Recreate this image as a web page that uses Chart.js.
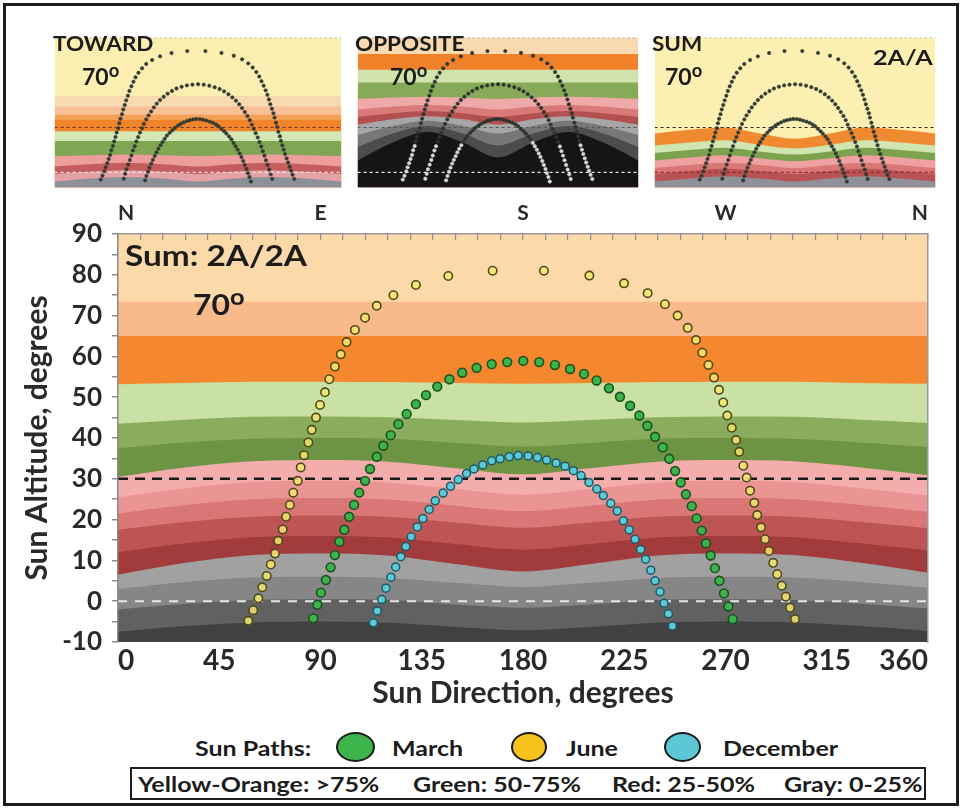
<!DOCTYPE html>
<html>
<head>
<meta charset="utf-8">
<script src="https://cdn.jsdelivr.net/npm/chart.js@4.4.1/dist/chart.umd.min.js"></script>
<style>
  html, body { margin: 0; padding: 0; background: #fff; }
  body { width: 962px; height: 809px; position: relative; overflow: hidden;
         font-family: Lato, "Open Sans", sans-serif; color: #222; }
  #frame { position: absolute; left: 3px; top: 3px; width: 950px; height: 797px;
           border: 3px solid #1e1e1e; }
  canvas { position: absolute; }
  .lbl { position: absolute; font-weight: 700; white-space: nowrap; line-height: 1; color: #1c1c1c;
         transform-origin: left center; }
  .thumbLbl { font-size: 21px; transform: scaleX(1.07); }
  .thumbDeg { font-size: 23px; }
  .sup { font-size: 0.8em; vertical-align: 0.45em; }
  .legTxt { font-size: 21px; transform: scaleX(1.19); }
  .mark { position: absolute; height: 30px; border-radius: 50%; border: 2.5px solid #1a1a1a; box-sizing: border-box; }
  #key { position: absolute; left: 130px; top: 767px; width: 796px; height: 33px;
         border: 2px solid #1e1e1e; box-sizing: border-box; }
</style>
</head>
<body>
<div id="frame"></div>

<canvas id="thumbToward" width="296" height="159" style="left:50px;top:33px;width:296px;height:159px"></canvas>
<canvas id="thumbOpposite" width="290" height="159" style="left:353px;top:33px;width:290px;height:159px"></canvas>
<canvas id="thumbSum" width="290" height="159" style="left:650px;top:33px;width:290px;height:159px"></canvas>
<canvas id="mainChart" width="962" height="530" style="left:0;top:190px;width:962px;height:530px"></canvas>

<div class="lbl thumbLbl" style="left:53px;top:32px">TOWARD</div>
<div class="lbl thumbDeg" style="left:82px;top:61px">70<span class="sup">o</span></div>
<div class="lbl thumbLbl" style="left:355px;top:32px">OPPOSITE</div>
<div class="lbl thumbDeg" style="left:390px;top:61px">70<span class="sup">o</span></div>
<div class="lbl thumbLbl" style="left:652px;top:32px">SUM</div>
<div class="lbl thumbDeg" style="left:665px;top:61px">70<span class="sup">o</span></div>
<div class="lbl" style="left:873px;top:46px;font-size:21px;transform:scaleX(1.2)">2A/A</div>

<div class="lbl" style="left:125px;top:240px;font-size:29px;transform:scaleX(1.15)">Sum: 2A/2A</div>
<div class="lbl" style="left:193px;top:285px;font-size:29px;transform:scaleX(1.1)">70<span class="sup">o</span></div>

<div class="lbl legTxt" style="left:195px;top:737px">Sun Paths:</div>
<div class="mark" style="left:336px;top:732px;width:39px;background:#3cb44a"></div>
<div class="lbl legTxt" style="left:392px;top:737px">March</div>
<div class="mark" style="left:511px;top:732px;width:36px;background:#f7c21c"></div>
<div class="lbl legTxt" style="left:566px;top:737px">June</div>
<div class="mark" style="left:664px;top:732px;width:37px;background:#5cc8d6"></div>
<div class="lbl legTxt" style="left:723px;top:737px">December</div>

<div id="key"></div>
<div class="lbl legTxt" style="left:138px;top:773px">Yellow-Orange: &gt;75%</div>
<div class="lbl legTxt" style="left:413px;top:773px">Green: 50-75%</div>
<div class="lbl legTxt" style="left:612px;top:773px">Red: 25-50%</div>
<div class="lbl legTxt" style="left:784px;top:773px">Gray: 0-25%</div>

<script>
// ---- sun path samples (azimuth, altitude in degrees) ----
const juneAz = [57.9,60.1,62.4,64.1,66.1,67.9,69.8,71.2,73.2,74.7,76.4,77.9,79.9,81.2,82.7,84.6,86.1,88.0,89.8,92.0,93.9,96.4,99.0,101.6,105.3,109.8,115.0,122.4,132.4,146.8,166.5,
                189.3,209.5,224.9,235.4,243.1,248.7,253.2,256.9,259.7,262.4,264.9,267.1,269.0,270.8,272.8,274.7,276.1,277.9,279.4,280.9,282.8,284.1,285.8,287.6,289.3,291.2,293.0,295.0,296.8,298.7,300.9];
const juneAlt = [-4.8,-2.2,0.7,3.4,6.2,9.0,11.7,14.8,17.6,20.7,23.6,26.6,29.5,32.8,35.8,38.9,42.0,45.0,48.1,51.2,54.4,57.5,60.5,63.5,66.5,69.5,72.4,75.0,77.5,79.7,81.0,
                 81.0,79.8,77.9,75.5,72.8,70.0,67.0,64.0,60.9,57.9,54.8,51.8,48.7,45.5,42.5,39.5,36.6,33.2,30.3,27.1,24.1,21.1,18.1,15.2,12.3,9.4,6.6,3.8,1.1,-1.6,-4.4];
const marchAz = [86.8,88.6,90.2,92.4,94.5,96.4,98.4,100.6,102.7,104.9,107.2,109.8,112.0,115.0,117.9,121.2,124.6,128.3,132.4,136.9,141.9,147.3,153.0,159.4,166.1,173.0,
                 180.1,
                 187.2,194.2,200.9,207.1,212.7,218.2,223.1,227.6,231.7,235.3,238.7,242.1,245.0,247.6,250.1,252.4,255.0,257.2,259.4,261.3,263.4,265.3,267.3,269.3,271.3,273.2];
const marchAlt = [-4.2,-0.9,2.1,5.2,8.3,11.3,14.6,17.5,20.7,23.6,26.6,29.5,32.4,35.4,38.1,40.7,43.4,45.9,48.3,50.5,52.6,54.4,56.0,57.2,58.1,58.6,
                  58.9,
                  58.6,57.9,56.9,55.7,54.1,52.2,50.1,47.9,45.5,43.0,40.3,37.7,34.9,31.9,29.1,26.2,23.3,20.3,17.3,14.2,11.2,8.1,5.0,1.9,-1.3,-4.4];
const decAz = [113.5,115.2,117.2,119.1,121.3,123.4,125.7,127.9,130.3,133.0,135.5,138.3,141.0,144.5,147.8,151.2,154.9,158.2,162.1,166.1,169.8,173.9,177.9,
               182.3,186.4,190.5,194.7,198.7,202.4,205.8,209.3,212.8,215.7,219.0,221.9,224.6,227.2,229.8,232.3,234.5,236.8,238.7,240.9,242.7,244.6,246.4];
const decAlt = [-5.3,-2.4,0.4,3.2,5.9,8.4,10.9,13.4,15.8,18.2,20.3,22.5,24.6,26.5,28.2,29.8,31.3,32.4,33.4,34.4,34.9,35.4,35.7,
                35.6,35.2,34.6,33.9,33.1,32.0,30.8,29.1,27.5,25.9,24.0,22.1,19.7,17.5,15.2,12.7,10.3,7.6,5.0,2.3,-0.5,-3.1,-6.1];

// ---- axes ----
const xTickStep = 45;
const compassAz = [0, 90, 180, 270, 360];
const compassNames = ['N', 'E', 'S', 'W', 'N'];
const altRange = [-10, 90];
const refAltitudes = [30, 0];

// ---- shading bands, main panel: upper edge of each band (altitude) per azimuth ----
const bandAz = [0, 30, 60, 90, 120, 150, 180, 210, 240, 270, 300, 330, 360];
const mainGray4 = [-7.5,-6.1,-5.2,-5,-5.3,-6.3,-7.1,-6.3,-5.3,-5,-5.2,-6.1,-7.3];
const mainGray3 = [-2,-0.6,0.3,0.5,0.3,-0.8,-1.6,-0.8,0.3,0.5,0.3,-0.6,-1.8];
const mainGray2 = [3,4.7,5.8,6,5.7,4.5,3.5,4.5,5.7,6,5.8,4.7,3.3];
const mainGray1 = [6.5,9.4,11.3,11.7,11.2,9.1,7.3,9.1,11.2,11.7,11.3,9.4,7.0];
const mainRed5 = [12,14.2,15.7,16,15.6,14,12.6,14,15.6,16,15.7,14.2,12.4];
const mainRed4 = [17.5,19.4,20.7,21,20.7,19.3,18,19.3,20.7,21,20.7,19.4,17.9];
const mainRed3 = [21.5,23.6,25,25.3,24.9,23.4,22.1,23.4,24.9,25.3,25,23.6,21.9];
const mainRed2 = [25.5,27.7,29.2,29.5,29.1,27.5,26.1,27.5,29.1,29.5,29.2,27.7,25.9];
const mainRed1 = [30.5,32.8,34.3,34.6,34.2,32.6,31.1,32.6,34.2,34.6,34.3,32.8,30.9];
const mainGreen3 = [37.5,38.9,39.8,40,39.8,38.8,37.9,38.8,39.8,40,39.8,38.9,37.8];
const mainGreen2 = [43.5,44.5,45.2,45.3,45.1,44.4,43.8,44.4,45.1,45.3,45.2,44.5,43.7];
const mainGreen1 = [53.2,53.5,53.8,53.8,53.7,53.5,53.3,53.5,53.7,53.8,53.8,53.5,53.3];
const mainOrange3 = [65,65,65,65,65,65,65,65,65,65,65,65,65];
const mainOrange2 = [73.4,73.4,73.4,73.4,73.4,73.4,73.4,73.4,73.4,73.4,73.4,73.4,73.4];
const mainOrange1 = [90,90,90,90,90,90,90,90,90,90,90,90,90];

// ---- shading bands, small panels ----
const thumbAz = [0, 45, 90, 135, 180, 225, 270, 315, 360];
const towardGray = [-6,-4,-3,-4,-6,-4,-3,-4,-6];
const towardPinkLow = [-1,0.5,1.5,0.5,-1,0.5,1.5,0.5,-1];
const towardRed = [4,5.5,6.5,5.5,4,5.5,6.5,5.5,4];
const towardPink = [11,11.5,12,11.5,11,11.5,12,11.5,11];
const towardGreen = [21,21,21,21,21,21,21,21,21];
const towardLightGreen = [27.5,27.5,27.5,27.5,27.5,27.5,27.5,27.5,27.5];
const towardOrange = [35,35,35,35,35,35,35,35,35];
const towardOrangeLight = [38.5,38.5,38.5,38.5,38.5,38.5,38.5,38.5,38.5];
const towardSalmon = [44,44,44,44,44,44,44,44,44];
const towardPeach = [51,51,51,51,51,51,51,51,51];
const towardYellow = [90,90,90,90,90,90,90,90,90];

const oppBlack = [8,20,27,20,10,20,27,20,8];
const oppDarkGray = [17,26,31,26,18,26,31,26,17];
const oppGray = [25,31,34.5,31,26,31,34.5,31,25];
const oppLightGray = [32,35.5,37.5,35.5,32,35.5,37.5,35.5,32];
const oppDarkRed = [37,39.5,41,39.5,37,39.5,41,39.5,37];
const oppRed = [42,44,45,44,42,44,45,44,42];
const oppPink = [49,50,50.5,50,49,50,50.5,50,49];
const oppGreen = [60,60,60,60,60,60,60,60,60];
const oppLightGreen = [68.5,68.5,68.5,68.5,68.5,68.5,68.5,68.5,68.5];
const oppOrange = [79,79,79,79,79,79,79,79,79];
const oppPeach = [90,90,90,90,90,90,90,90,90];

const sumGray = [-6,-4,-2.5,-4,-6,-4,-2.5,-4,-6];
const sumDarkRed = [-1,1,2.5,1,-1,1,2.5,1,-1];
const sumRed = [3,5,6.5,5,3,5,6.5,5,3];
const sumPink = [8,10,11.5,9.5,7.5,9.5,11.5,10,8];
const sumGreen = [13,15,16.5,14,12,14,16.5,15,13];
const sumLightGreen = [18,20,21.5,18.5,16,18.5,21.5,20,18];
const sumOrange = [26,28.5,30,26,22.5,26,30,28.5,26];
const sumYellow = [90,90,90,90,90,90,90,90,90];

// ---- styling ----
const FONT = 'Lato';
const INK = '#2a2a2a';
const mainBandStyle = [
  [mainGray4, '#414141'], [mainGray3, '#616161'], [mainGray2, '#868686'], [mainGray1, '#a1a1a1'],
  [mainRed5, '#a23b3b'], [mainRed4, '#bd5555'], [mainRed3, '#d97676'], [mainRed2, '#eb9494'], [mainRed1, '#f4adad'],
  [mainGreen3, '#6d9443'], [mainGreen2, '#89ad5c'], [mainGreen1, '#c9e1a5'],
  [mainOrange3, '#f5872f'], [mainOrange2, '#f8ba8a'], [mainOrange1, '#fcd9a9']
];
const towardBandStyle = [
  [towardGray, '#8d8f99'], [towardPinkLow, '#e3a2a4'], [towardRed, '#c45d5d'], [towardPink, '#ee9d9d'],
  [towardGreen, '#7fa652'], [towardLightGreen, '#d2e7b3'], [towardOrange, '#f0842a'], [towardOrangeLight, '#f4a155'],
  [towardSalmon, '#f7c096'], [towardPeach, '#f9dab0'], [towardYellow, '#faefb0']
];
const oppBandStyle = [
  [oppBlack, '#151515'], [oppDarkGray, '#4c4c4c'], [oppGray, '#777777'], [oppLightGray, '#a6a6a6'],
  [oppDarkRed, '#b34f4f'], [oppRed, '#d97a7a'], [oppPink, '#f0a9a9'], [oppGreen, '#86aa58'],
  [oppLightGreen, '#cfe4ac'], [oppOrange, '#f0802a'], [oppPeach, '#f9d9b0']
];
const sumBandStyle = [
  [sumGray, '#8f909a'], [sumDarkRed, '#b95353'], [sumRed, '#d97676'], [sumPink, '#efa0a0'],
  [sumGreen, '#7da24d'], [sumLightGreen, '#d0e6b0'], [sumOrange, '#f08a30'], [sumYellow, '#fbf0b2']
];

const toPoints = (xs, ys) => xs.map((x, i) => ({ x, y: ys[i] }));

// Each band is filled from its upper edge down to the axis start; lower bands are painted over higher ones.
function bandDatasets(az, styles) {
  return styles.map(([top, color], i) => ({
    data: toPoints(az, top),
    backgroundColor: color,
    borderWidth: 0,
    pointRadius: 0,
    fill: 'start',
    cubicInterpolationMode: 'monotone',
    order: 10 + i
  }));
}

function refLine(alt, color, width, dash) {
  return {
    data: [{ x: 0, y: alt }, { x: 360, y: alt }],
    borderColor: color, borderWidth: width, borderDash: dash,
    pointRadius: 0, fill: false, order: 2
  };
}

function pathDataset(xs, ys, fillColor, edgeColor, radius, edgeWidth) {
  return {
    data: toPoints(xs, ys),
    showLine: false,
    pointRadius: radius,
    pointBackgroundColor: fillColor,
    pointBorderColor: edgeColor,
    pointBorderWidth: edgeWidth,
    fill: false,
    order: 0
  };
}

const baseOptions = {
  responsive: false,
  animation: false,
  devicePixelRatio: 1,
  events: [],
  plugins: { legend: { display: false }, tooltip: { enabled: false } }
};

// ---- small panels ----
function smallPanel(id, styles, dash30, dash0, dotColor) {
  new Chart(document.getElementById(id), {
    type: 'line',
    data: {
      datasets: [
        ...bandDatasets(thumbAz, styles),
        refLine(refAltitudes[0], dash30, 1.2, [3, 3]),
        refLine(refAltitudes[1], dash0, 1.2, [3, 3]),
        refLine(altRange[1], '#9a9a9a', 1.5, [2, 3]),
        pathDataset(marchAz, marchAlt, dotColor, dotColor, 1.7, 0.6),
        pathDataset(juneAz, juneAlt, dotColor, dotColor, 1.7, 0.6),
        pathDataset(decAz, decAlt, dotColor, dotColor, 1.7, 0.6)
      ]
    },
    options: {
      ...baseOptions,
      layout: { padding: 0 },
      scales: {
        x: { type: 'linear', min: 0, max: 360, display: false },
        y: { type: 'linear', min: altRange[0], max: altRange[1], display: false }
      }
    }
  });
}

smallPanel('thumbToward', towardBandStyle, '#6a3030', '#f2e6e6', '#333a33');
smallPanel('thumbOpposite', oppBandStyle, '#555555', '#e8e8e8',
  ctx => (ctx.raw && ctx.raw.y < 20) ? '#d8d8d8' : '#2e342e');
smallPanel('thumbSum', sumBandStyle, '#3a2a2a', '#8a2a2a', '#333a33');

// ---- main panel ----
const xTickFont = { family: FONT, size: 28, weight: 'bold' };
const yTickFont = { family: FONT, size: 26, weight: 'bold' };
const titleFont = { family: FONT, size: 30, weight: 'bold' };

new Chart(document.getElementById('mainChart'), {
  type: 'line',
  data: {
    datasets: [
      ...bandDatasets(bandAz, mainBandStyle),
      refLine(refAltitudes[0], '#1a1a1a', 2.6, [10, 7]),
      refLine(refAltitudes[1], '#e6e6e6', 2, [9, 8]),
      pathDataset(marchAz, marchAlt, '#3cb44a', '#1c4f22', 4.4, 1.6),
      pathDataset(juneAz, juneAlt, 'rgba(246,230,112,0.85)', '#4e4a1c', 4.2, 1.6),
      pathDataset(decAz, decAlt, '#5cc9d7', '#1d5966', 4.0, 1.5)
    ]
  },
  options: {
    ...baseOptions,
    layout: { padding: { left: 0, right: 34, top: 0, bottom: 0 } },
    scales: {
      x: {
        type: 'linear', min: 0, max: 360, position: 'bottom',
        ticks: { stepSize: xTickStep, autoSkip: false, maxRotation: 0, align: 'inner', color: INK, font: xTickFont, padding: 2 },
        grid: { display: false, drawTicks: false },
        border: { display: false },
        title: { display: true, text: 'Sun Direction, degrees', color: INK, font: titleFont, padding: { top: 0, bottom: 9 } },
        afterFit: s => { s.height = 78; }
      },
      xTop: {
        type: 'linear', min: 0, max: 360, position: 'top',
        ticks: {
          stepSize: 10, autoSkip: false, maxRotation: 0, align: 'inner', color: INK, padding: 14,
          font: { family: FONT, size: 21, weight: 'bold' },
          callback: v => { const i = compassAz.indexOf(v); return i >= 0 ? compassNames[i] : ''; }
        },
        grid: { drawOnChartArea: false, drawTicks: true, tickLength: -6, color: '#8c8c8c', lineWidth: 1.2, z: 1 },
        border: { display: true, color: '#9a9a9a', width: 1.5, z: 1 },
        afterFit: s => { s.height = 44; }
      },
      y: {
        type: 'linear', min: altRange[0], max: altRange[1], position: 'left',
        ticks: { stepSize: 5, autoSkip: false, color: INK, font: yTickFont, padding: 10,
                 callback: v => (v % 10 === 0 ? String(v) : '') },
        grid: { drawOnChartArea: false, drawTicks: true, tickLength: 6, color: '#8c8c8c', lineWidth: 1.5, z: 1 },
        border: { display: true, color: '#8c8c8c', width: 1.5, z: 1 },
        title: { display: true, text: 'Sun Altitude, degrees', color: INK, font: titleFont, padding: { top: 19, bottom: 0 } },
        afterFit: s => { s.width = 118; }
      },
      yRight: {
        type: 'linear', min: altRange[0], max: altRange[1], position: 'right',
        ticks: { display: false },
        grid: { drawOnChartArea: false, drawTicks: false, z: 1 },
        border: { display: true, color: '#9a9a9a', width: 1.5, z: 1 },
        afterFit: s => { s.width = 0; }
      }
    }
  }
});
</script>
</body>
</html>
